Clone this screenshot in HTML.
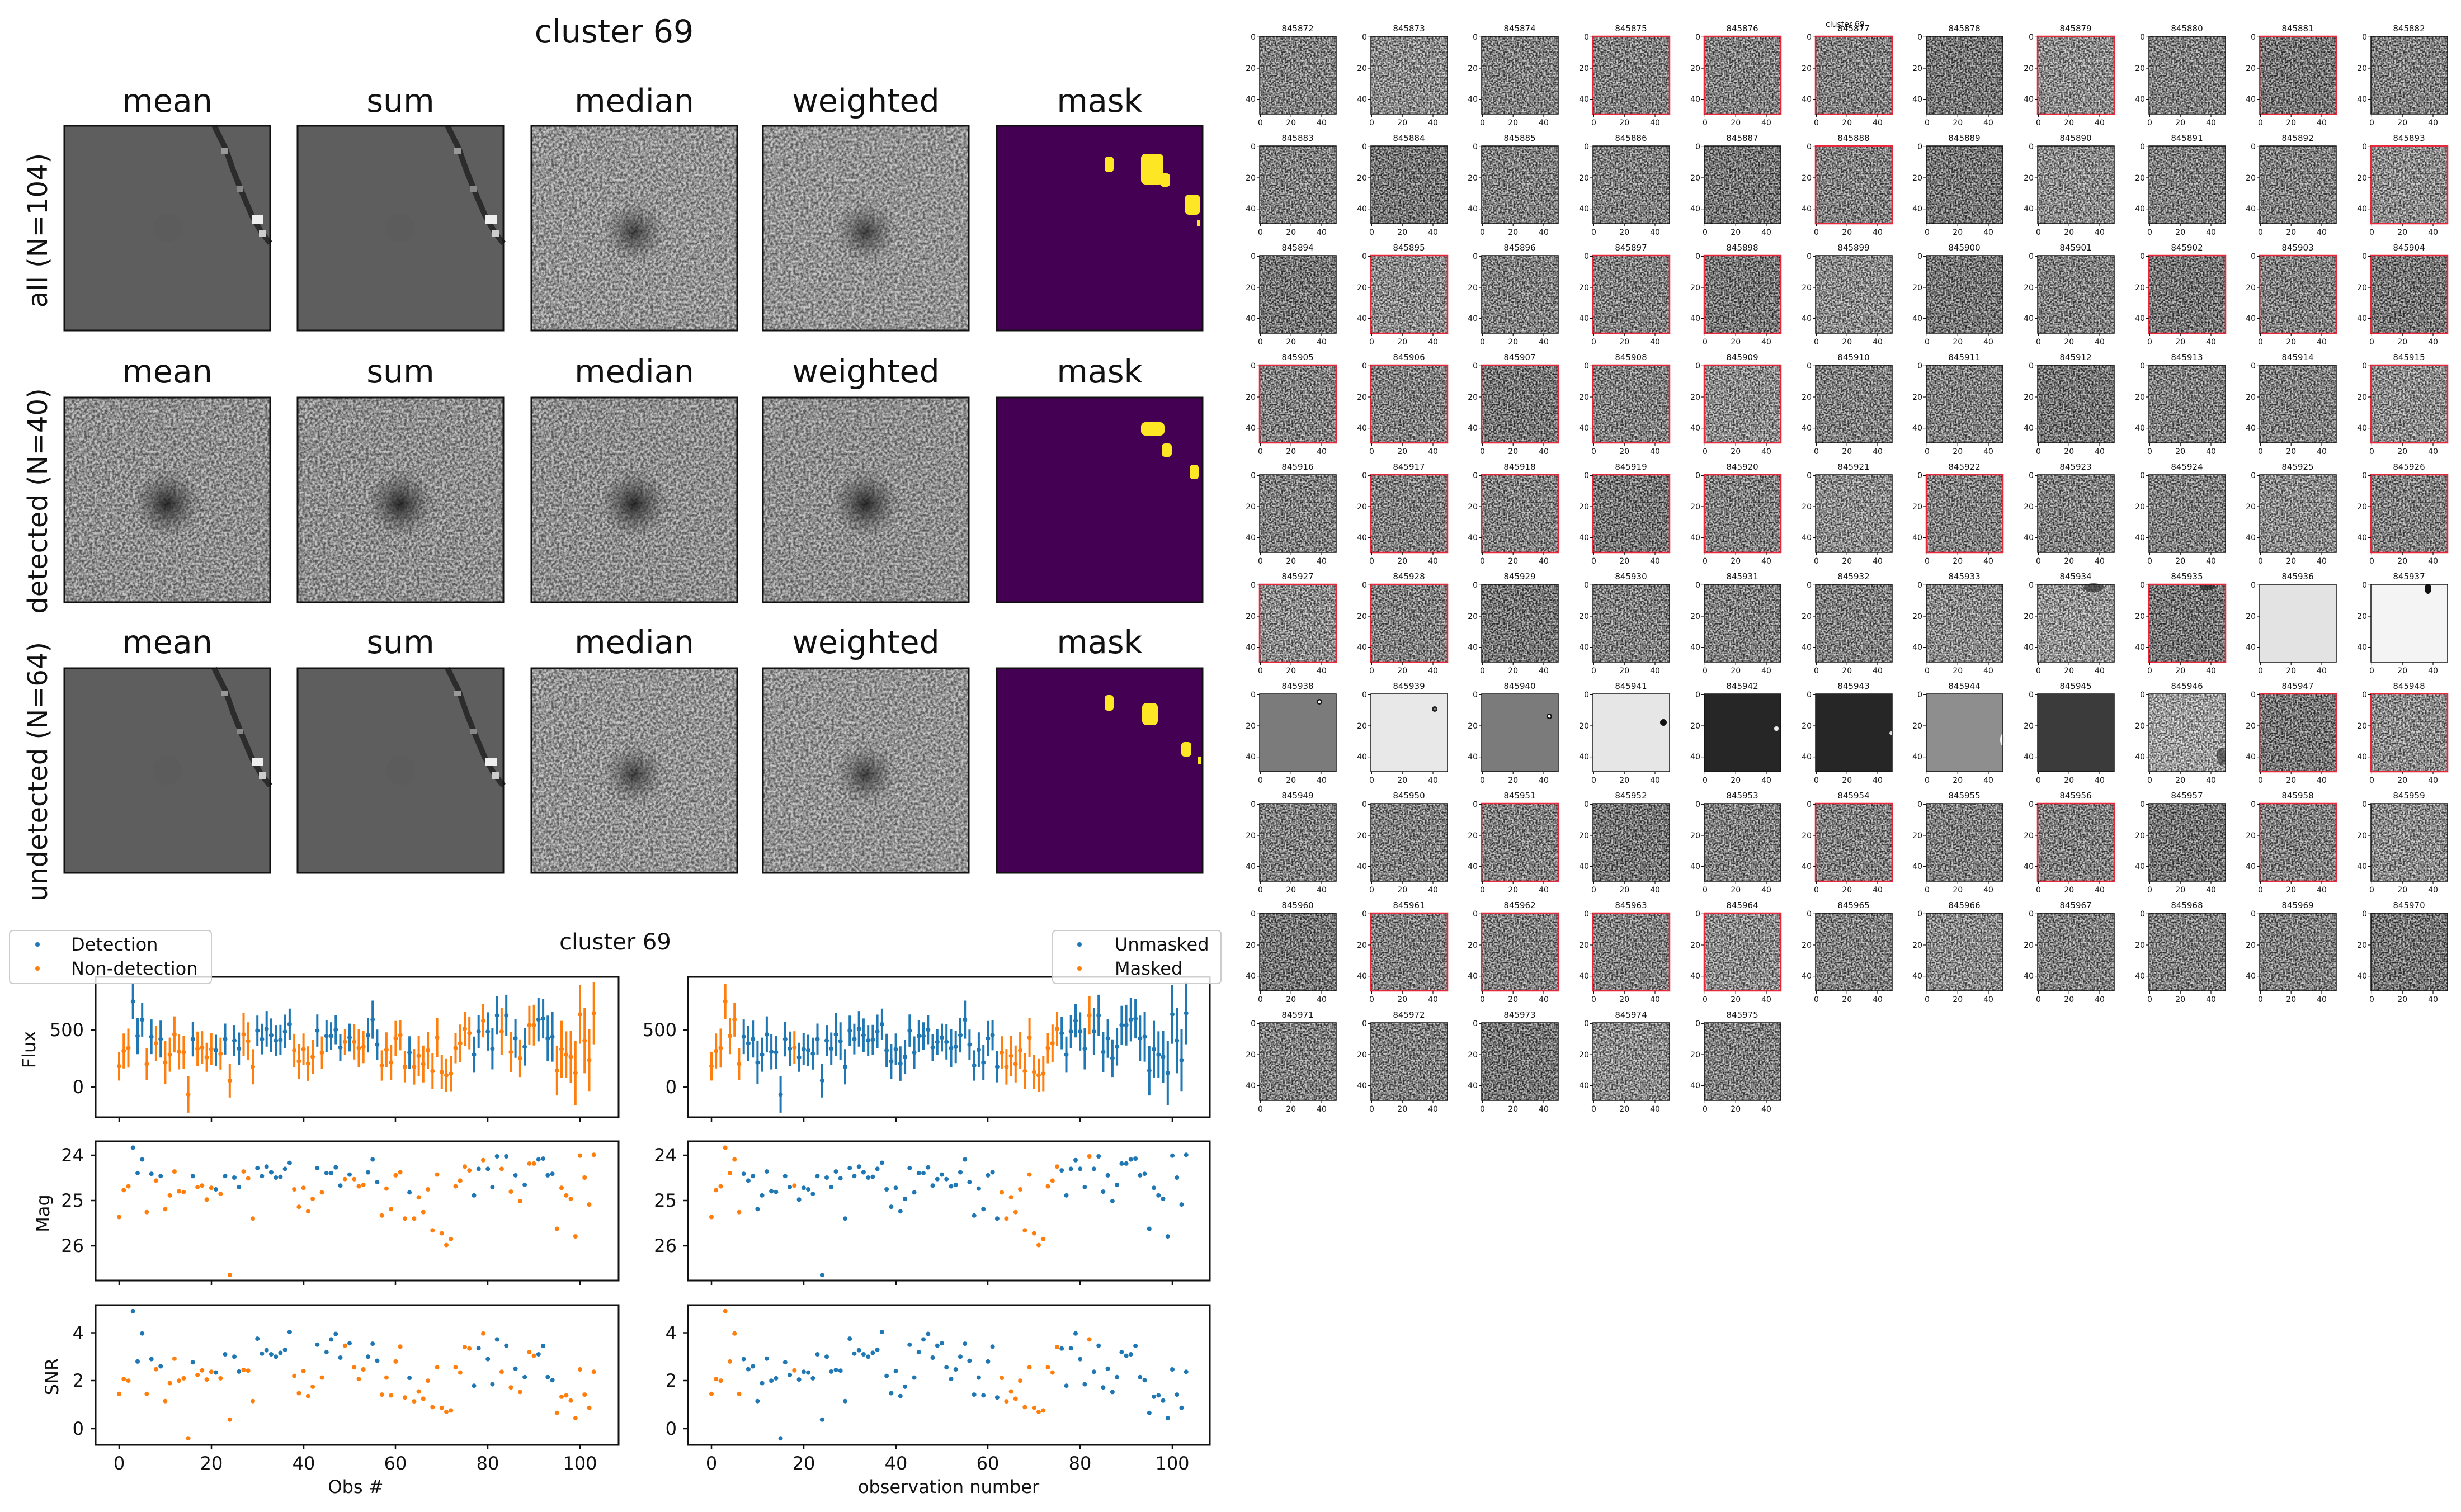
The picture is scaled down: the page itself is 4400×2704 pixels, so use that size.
<!DOCTYPE html>
<html><head><meta charset="utf-8">
<style>
html,body{margin:0;padding:0;background:#fff;}
svg{display:block;font-family:"DejaVu Sans","Liberation Sans",sans-serif;}
.a{fill:#7e7e7e;filter:url(#nz)}
.d{fill:#646464;filter:url(#nz)}
.l{fill:#979797;filter:url(#nz)}
.L{fill:#c6c6c6;filter:url(#nz)}
.B{fill:#adadad;filter:url(#nz)}
.f{fill:none;stroke:#111;stroke-width:1.5}
.r{fill:none;stroke:#e8283a;stroke-width:2.5}
.h{font-size:15px;text-anchor:middle;fill:#111}
.k{font-size:14px;fill:#111}
.T{font-size:57px;text-anchor:middle;fill:#111}
.R{font-size:48px;text-anchor:middle;fill:#111}
.t2{font-size:32px;fill:#111}
</style></head><body>
<svg id="S" width="4400" height="2704" viewBox="0 0 4400 2704" xmlns="http://www.w3.org/2000/svg">
<defs>
<filter id="nz" x="0" y="0" width="1" height="1" color-interpolation-filters="sRGB">
<feTurbulence type="fractalNoise" baseFrequency="0.33" numOctaves="1" seed="4" result="t"/>
<feColorMatrix in="t" type="matrix" values="3 0 0 0 -1  3 0 0 0 -1  3 0 0 0 -1  0 0 0 0 0.6" result="g"/>
<feComposite in="g" in2="SourceGraphic" operator="over"/>
</filter>
<filter id="nb" x="0" y="0" width="1" height="1" color-interpolation-filters="sRGB">
<feTurbulence type="fractalNoise" baseFrequency="0.22" numOctaves="2" seed="9" result="t"/>
<feColorMatrix in="t" type="matrix" values="2.2 0 0 0 -0.6  2.2 0 0 0 -0.6  2.2 0 0 0 -0.6  0 0 0 0 0.45" result="g"/>
<feComposite in="g" in2="SourceGraphic" operator="over"/>
</filter>
<radialGradient id="blob"><stop offset="0" stop-color="#111" stop-opacity="0.85"/><stop offset="0.5" stop-color="#333" stop-opacity="0.45"/><stop offset="1" stop-color="#444" stop-opacity="0"/></radialGradient>
<radialGradient id="blob2"><stop offset="0" stop-color="#111" stop-opacity="0.7"/><stop offset="0.5" stop-color="#333" stop-opacity="0.35"/><stop offset="1" stop-color="#444" stop-opacity="0"/></radialGradient>
<g id="tk">
<path d="M-5 1.4h5M-5 57h5M-5 112.6h5M1.4 139v5M56.2 139v5M111 139v5" stroke="#111" stroke-width="1.2"/>
<text class="k" text-anchor="end"><tspan x="-7" y="6">0</tspan><tspan x="-7" y="62">20</tspan><tspan x="-7" y="117">40</tspan></text>
<text class="k" text-anchor="middle"><tspan x="1.4" y="159">0</tspan><tspan x="56.2" y="159">20</tspan><tspan x="111" y="159">40</tspan></text>
</g>
<g id="smooth">
<rect width="368" height="366" fill="#5e5e5e"/>
<circle cx="184" cy="183" r="26" fill="#595959" opacity="0.5"/>
<polyline points="268,0 288,40 302,80 318,120 335,160 352,190 368,210" fill="none" stroke="#2c2c2c" stroke-width="10"/>
<rect x="280" y="40" width="12" height="10" fill="#999"/>
<rect x="308" y="108" width="12" height="10" fill="#888"/>
<rect x="336" y="160" width="20" height="15" fill="#eee"/>
<rect x="348" y="186" width="12" height="12" fill="#ccc"/>
</g>
<g id="nsb"><rect width="368" height="366" fill="#a2a2a2" style="filter:url(#nb)"/><circle cx="184" cy="190" r="55" fill="url(#blob2)"/></g>
<g id="nsd"><rect width="368" height="366" fill="#9a9a9a" style="filter:url(#nb)"/><circle cx="184" cy="190" r="60" fill="url(#blob)"/></g>
</defs>

<!-- top-left panel -->
<text class="T" x="1098" y="76">cluster 69</text>
<g class="T">
<text x="299" y="200">mean</text><text x="716" y="200">sum</text><text x="1134" y="200">median</text><text x="1548" y="200">weighted</text><text x="1966" y="200">mask</text>
<text x="299" y="684">mean</text><text x="716" y="684">sum</text><text x="1134" y="684">median</text><text x="1548" y="684">weighted</text><text x="1966" y="684">mask</text>
<text x="299" y="1168">mean</text><text x="716" y="1168">sum</text><text x="1134" y="1168">median</text><text x="1548" y="1168">weighted</text><text x="1966" y="1168">mask</text>
</g>
<text class="R" transform="translate(84,412) rotate(-90)">all (N=104)</text>
<text class="R" transform="translate(84,896) rotate(-90)">detected (N=40)</text>
<text class="R" transform="translate(84,1380) rotate(-90)">undetected (N=64)</text>

<g transform="translate(115,225)"><use href="#smooth"/></g>
<g transform="translate(532,225)"><use href="#smooth"/></g>
<g transform="translate(950,225)"><use href="#nsb"/></g>
<g transform="translate(1364,225)"><use href="#nsb"/></g>
<g transform="translate(1782,225)"><rect width="368" height="366" fill="#440154"/>
<rect x="193" y="55" width="16" height="28" rx="6" fill="#fde725"/>
<rect x="258" y="50" width="40" height="55" rx="8" fill="#fde725"/>
<rect x="292" y="85" width="18" height="24" rx="6" fill="#fde725"/>
<rect x="336" y="123" width="28" height="36" rx="8" fill="#fde725"/>
<rect x="358" y="168" width="6" height="12" fill="#fde725"/></g>

<g transform="translate(115,711)"><use href="#nsd"/></g>
<g transform="translate(532,711)"><use href="#nsd"/></g>
<g transform="translate(950,711)"><use href="#nsd"/></g>
<g transform="translate(1364,711)"><use href="#nsd"/></g>
<g transform="translate(1782,711)"><rect width="368" height="366" fill="#440154"/>
<rect x="258" y="44" width="42" height="24" rx="8" fill="#fde725"/>
<rect x="295" y="82" width="18" height="24" rx="6" fill="#fde725"/>
<rect x="345" y="120" width="16" height="26" rx="6" fill="#fde725"/></g>

<g transform="translate(115,1195)"><use href="#smooth"/></g>
<g transform="translate(532,1195)"><use href="#smooth"/></g>
<g transform="translate(950,1195)"><use href="#nsb"/></g>
<g transform="translate(1364,1195)"><use href="#nsb"/></g>
<g transform="translate(1782,1195)"><rect width="368" height="366" fill="#440154"/>
<rect x="193" y="48" width="16" height="28" rx="6" fill="#fde725"/>
<rect x="260" y="62" width="28" height="40" rx="8" fill="#fde725"/>
<rect x="330" y="132" width="18" height="26" rx="6" fill="#fde725"/>
<rect x="360" y="158" width="6" height="14" fill="#fde725"/></g>

<g fill="none" stroke="#111" stroke-width="3">
<rect x="115" y="225" width="368" height="366"/><rect x="532" y="225" width="368" height="366"/><rect x="950" y="225" width="368" height="366"/><rect x="1364" y="225" width="368" height="366"/><rect x="1782" y="225" width="368" height="366"/>
<rect x="115" y="711" width="368" height="366"/><rect x="532" y="711" width="368" height="366"/><rect x="950" y="711" width="368" height="366"/><rect x="1364" y="711" width="368" height="366"/><rect x="1782" y="711" width="368" height="366"/>
<rect x="115" y="1195" width="368" height="366"/><rect x="532" y="1195" width="368" height="366"/><rect x="950" y="1195" width="368" height="366"/><rect x="1364" y="1195" width="368" height="366"/><rect x="1782" y="1195" width="368" height="366"/>
</g>

<!-- thumbnails -->
<text class="h" x="3299" y="48" style="font-size:14px">cluster 69</text>
<g id="thumbs">
<g transform="translate(2252,65)"><rect class="a" width="137" height="139"/><rect class="f" width="137" height="139"/><use href="#tk"/><text class="h" x="68" y="-9">845872</text></g>
<g transform="translate(2451,65)"><rect class="l" width="137" height="139"/><rect class="f" width="137" height="139"/><use href="#tk"/><text class="h" x="68" y="-9">845873</text></g>
<g transform="translate(2649,65)"><rect class="a" width="137" height="139"/><rect class="f" width="137" height="139"/><use href="#tk"/><text class="h" x="68" y="-9">845874</text></g>
<g transform="translate(2848,65)"><rect class="a" width="137" height="139"/><rect class="r" width="137" height="139"/><use href="#tk"/><text class="h" x="68" y="-9">845875</text></g>
<g transform="translate(3047,65)"><rect class="a" width="137" height="139"/><rect class="r" width="137" height="139"/><use href="#tk"/><text class="h" x="68" y="-9">845876</text></g>
<g transform="translate(3246,65)"><rect class="a" width="137" height="139"/><rect class="r" width="137" height="139"/><use href="#tk"/><text class="h" x="68" y="-9">845877</text></g>
<g transform="translate(3444,65)"><rect class="d" width="137" height="139"/><rect class="f" width="137" height="139"/><use href="#tk"/><text class="h" x="68" y="-9">845878</text></g>
<g transform="translate(3643,65)"><rect class="l" width="137" height="139"/><rect class="r" width="137" height="139"/><use href="#tk"/><text class="h" x="68" y="-9">845879</text></g>
<g transform="translate(3842,65)"><rect class="a" width="137" height="139"/><rect class="f" width="137" height="139"/><use href="#tk"/><text class="h" x="68" y="-9">845880</text></g>
<g transform="translate(4040,65)"><rect class="d" width="137" height="139"/><rect class="r" width="137" height="139"/><use href="#tk"/><text class="h" x="68" y="-9">845881</text></g>
<g transform="translate(4239,65)"><rect class="a" width="137" height="139"/><rect class="f" width="137" height="139"/><use href="#tk"/><text class="h" x="68" y="-9">845882</text></g>

<g transform="translate(2252,261)"><rect class="a" width="137" height="139"/><rect class="f" width="137" height="139"/><use href="#tk"/><text class="h" x="68" y="-9">845883</text></g>
<g transform="translate(2451,261)"><rect class="d" width="137" height="139"/><rect class="f" width="137" height="139"/><use href="#tk"/><text class="h" x="68" y="-9">845884</text></g>
<g transform="translate(2649,261)"><rect class="a" width="137" height="139"/><rect class="f" width="137" height="139"/><use href="#tk"/><text class="h" x="68" y="-9">845885</text></g>
<g transform="translate(2848,261)"><rect class="a" width="137" height="139"/><rect class="f" width="137" height="139"/><use href="#tk"/><text class="h" x="68" y="-9">845886</text></g>
<g transform="translate(3047,261)"><rect class="d" width="137" height="139"/><rect class="f" width="137" height="139"/><use href="#tk"/><text class="h" x="68" y="-9">845887</text></g>
<g transform="translate(3246,261)"><rect class="a" width="137" height="139"/><rect class="r" width="137" height="139"/><use href="#tk"/><text class="h" x="68" y="-9">845888</text></g>
<g transform="translate(3444,261)"><rect class="d" width="137" height="139"/><rect class="f" width="137" height="139"/><use href="#tk"/><text class="h" x="68" y="-9">845889</text></g>
<g transform="translate(3643,261)"><rect class="l" width="137" height="139"/><rect class="f" width="137" height="139"/><use href="#tk"/><text class="h" x="68" y="-9">845890</text></g>
<g transform="translate(3842,261)"><rect class="a" width="137" height="139"/><rect class="f" width="137" height="139"/><use href="#tk"/><text class="h" x="68" y="-9">845891</text></g>
<g transform="translate(4040,261)"><rect class="a" width="137" height="139"/><rect class="f" width="137" height="139"/><use href="#tk"/><text class="h" x="68" y="-9">845892</text></g>
<g transform="translate(4239,261)"><rect class="l" width="137" height="139"/><rect class="r" width="137" height="139"/><use href="#tk"/><text class="h" x="68" y="-9">845893</text></g>

<g transform="translate(2252,457)"><rect class="d" width="137" height="139"/><rect class="f" width="137" height="139"/><use href="#tk"/><text class="h" x="68" y="-9">845894</text></g>
<g transform="translate(2451,457)"><rect class="l" width="137" height="139"/><rect class="r" width="137" height="139"/><use href="#tk"/><text class="h" x="68" y="-9">845895</text></g>
<g transform="translate(2649,457)"><rect class="a" width="137" height="139"/><rect class="f" width="137" height="139"/><use href="#tk"/><text class="h" x="68" y="-9">845896</text></g>
<g transform="translate(2848,457)"><rect class="a" width="137" height="139"/><rect class="r" width="137" height="139"/><use href="#tk"/><text class="h" x="68" y="-9">845897</text></g>
<g transform="translate(3047,457)"><rect class="d" width="137" height="139"/><rect class="r" width="137" height="139"/><use href="#tk"/><text class="h" x="68" y="-9">845898</text></g>
<g transform="translate(3246,457)"><rect class="l" width="137" height="139"/><rect class="f" width="137" height="139"/><use href="#tk"/><text class="h" x="68" y="-9">845899</text></g>
<g transform="translate(3444,457)"><rect class="d" width="137" height="139"/><rect class="f" width="137" height="139"/><use href="#tk"/><text class="h" x="68" y="-9">845900</text></g>
<g transform="translate(3643,457)"><rect class="a" width="137" height="139"/><rect class="f" width="137" height="139"/><use href="#tk"/><text class="h" x="68" y="-9">845901</text></g>
<g transform="translate(3842,457)"><rect class="d" width="137" height="139"/><rect class="r" width="137" height="139"/><use href="#tk"/><text class="h" x="68" y="-9">845902</text></g>
<g transform="translate(4040,457)"><rect class="a" width="137" height="139"/><rect class="r" width="137" height="139"/><use href="#tk"/><text class="h" x="68" y="-9">845903</text></g>
<g transform="translate(4239,457)"><rect class="d" width="137" height="139"/><rect class="r" width="137" height="139"/><use href="#tk"/><text class="h" x="68" y="-9">845904</text></g>

<g transform="translate(2252,653)"><rect class="a" width="137" height="139"/><rect class="r" width="137" height="139"/><use href="#tk"/><text class="h" x="68" y="-9">845905</text></g>
<g transform="translate(2451,653)"><rect class="a" width="137" height="139"/><rect class="r" width="137" height="139"/><use href="#tk"/><text class="h" x="68" y="-9">845906</text></g>
<g transform="translate(2649,653)"><rect class="d" width="137" height="139"/><rect class="r" width="137" height="139"/><use href="#tk"/><text class="h" x="68" y="-9">845907</text></g>
<g transform="translate(2848,653)"><rect class="a" width="137" height="139"/><rect class="r" width="137" height="139"/><use href="#tk"/><text class="h" x="68" y="-9">845908</text></g>
<g transform="translate(3047,653)"><rect class="l" width="137" height="139"/><rect class="r" width="137" height="139"/><use href="#tk"/><text class="h" x="68" y="-9">845909</text></g>
<g transform="translate(3246,653)"><rect class="a" width="137" height="139"/><rect class="f" width="137" height="139"/><use href="#tk"/><text class="h" x="68" y="-9">845910</text></g>
<g transform="translate(3444,653)"><rect class="a" width="137" height="139"/><rect class="f" width="137" height="139"/><use href="#tk"/><text class="h" x="68" y="-9">845911</text></g>
<g transform="translate(3643,653)"><rect class="d" width="137" height="139"/><rect class="f" width="137" height="139"/><use href="#tk"/><text class="h" x="68" y="-9">845912</text></g>
<g transform="translate(3842,653)"><rect class="a" width="137" height="139"/><rect class="f" width="137" height="139"/><use href="#tk"/><text class="h" x="68" y="-9">845913</text></g>
<g transform="translate(4040,653)"><rect class="a" width="137" height="139"/><rect class="f" width="137" height="139"/><use href="#tk"/><text class="h" x="68" y="-9">845914</text></g>
<g transform="translate(4239,653)"><rect class="l" width="137" height="139"/><rect class="r" width="137" height="139"/><use href="#tk"/><text class="h" x="68" y="-9">845915</text></g>

<g transform="translate(2252,849)"><rect class="a" width="137" height="139"/><rect class="f" width="137" height="139"/><use href="#tk"/><text class="h" x="68" y="-9">845916</text></g>
<g transform="translate(2451,849)"><rect class="a" width="137" height="139"/><rect class="r" width="137" height="139"/><use href="#tk"/><text class="h" x="68" y="-9">845917</text></g>
<g transform="translate(2649,849)"><rect class="a" width="137" height="139"/><rect class="r" width="137" height="139"/><use href="#tk"/><text class="h" x="68" y="-9">845918</text></g>
<g transform="translate(2848,849)"><rect class="d" width="137" height="139"/><rect class="r" width="137" height="139"/><use href="#tk"/><text class="h" x="68" y="-9">845919</text></g>
<g transform="translate(3047,849)"><rect class="a" width="137" height="139"/><rect class="r" width="137" height="139"/><use href="#tk"/><text class="h" x="68" y="-9">845920</text></g>
<g transform="translate(3246,849)"><rect class="l" width="137" height="139"/><rect class="f" width="137" height="139"/><use href="#tk"/><text class="h" x="68" y="-9">845921</text></g>
<g transform="translate(3444,849)"><rect class="a" width="137" height="139"/><rect class="r" width="137" height="139"/><use href="#tk"/><text class="h" x="68" y="-9">845922</text></g>
<g transform="translate(3643,849)"><rect class="a" width="137" height="139"/><rect class="f" width="137" height="139"/><use href="#tk"/><text class="h" x="68" y="-9">845923</text></g>
<g transform="translate(3842,849)"><rect class="a" width="137" height="139"/><rect class="f" width="137" height="139"/><use href="#tk"/><text class="h" x="68" y="-9">845924</text></g>
<g transform="translate(4040,849)"><rect class="l" width="137" height="139"/><rect class="f" width="137" height="139"/><use href="#tk"/><text class="h" x="68" y="-9">845925</text></g>
<g transform="translate(4239,849)"><rect class="a" width="137" height="139"/><rect class="r" width="137" height="139"/><use href="#tk"/><text class="h" x="68" y="-9">845926</text></g>

<g transform="translate(2252,1045)"><rect class="l" width="137" height="139"/><rect class="r" width="137" height="139"/><use href="#tk"/><text class="h" x="68" y="-9">845927</text></g>
<g transform="translate(2451,1045)"><rect class="a" width="137" height="139"/><rect class="r" width="137" height="139"/><use href="#tk"/><text class="h" x="68" y="-9">845928</text></g>
<g transform="translate(2649,1045)"><rect class="d" width="137" height="139"/><rect class="f" width="137" height="139"/><use href="#tk"/><text class="h" x="68" y="-9">845929</text></g>
<g transform="translate(2848,1045)"><rect class="a" width="137" height="139"/><rect class="f" width="137" height="139"/><use href="#tk"/><text class="h" x="68" y="-9">845930</text></g>
<g transform="translate(3047,1045)"><rect class="a" width="137" height="139"/><rect class="f" width="137" height="139"/><use href="#tk"/><text class="h" x="68" y="-9">845931</text></g>
<g transform="translate(3246,1045)"><rect class="a" width="137" height="139"/><rect class="f" width="137" height="139"/><use href="#tk"/><text class="h" x="68" y="-9">845932</text></g>
<g transform="translate(3444,1045)"><rect class="l" width="137" height="139"/><rect class="f" width="137" height="139"/><use href="#tk"/><text class="h" x="68" y="-9">845933</text></g>
<g transform="translate(3643,1045)"><rect class="B" width="137" height="139"/><ellipse cx="100" cy="6" rx="18" ry="8" fill="#333" opacity="0.7"/><rect class="f" width="137" height="139"/><use href="#tk"/><text class="h" x="68" y="-9">845934</text></g>
<g transform="translate(3842,1045)"><rect class="d" width="137" height="139"/><ellipse cx="105" cy="5" rx="14" ry="6" fill="#222" opacity="0.7"/><rect class="r" width="137" height="139"/><use href="#tk"/><text class="h" x="68" y="-9">845935</text></g>
<g transform="translate(4040,1045)"><rect fill="#e3e3e3" width="137" height="139"/><rect class="f" width="137" height="139"/><use href="#tk"/><text class="h" x="68" y="-9">845936</text></g>
<g transform="translate(4239,1045)"><rect fill="#f4f4f4" width="137" height="139"/><ellipse cx="102" cy="8" rx="6" ry="9" fill="#111"/><rect class="f" width="137" height="139"/><use href="#tk"/><text class="h" x="68" y="-9">845937</text></g>

<g transform="translate(2252,1241)"><rect fill="#7b7b7b" width="137" height="139"/><circle cx="107" cy="14" r="5" fill="#111"/><circle cx="107" cy="14" r="2.5" fill="#fff"/><rect class="f" width="137" height="139"/><use href="#tk"/><text class="h" x="68" y="-9">845938</text></g>
<g transform="translate(2451,1241)"><rect fill="#e8e8e8" width="137" height="139"/><circle cx="114" cy="27" r="5" fill="#222"/><circle cx="114" cy="27" r="2" fill="#888"/><rect class="f" width="137" height="139"/><use href="#tk"/><text class="h" x="68" y="-9">845939</text></g>
<g transform="translate(2649,1241)"><rect fill="#7b7b7b" width="137" height="139"/><circle cx="121" cy="40" r="5" fill="#111"/><circle cx="121" cy="40" r="2.5" fill="#fff"/><rect class="f" width="137" height="139"/><use href="#tk"/><text class="h" x="68" y="-9">845940</text></g>
<g transform="translate(2848,1241)"><rect fill="#e6e6e6" width="137" height="139"/><circle cx="126" cy="51" r="6" fill="#111"/><rect class="f" width="137" height="139"/><use href="#tk"/><text class="h" x="68" y="-9">845941</text></g>
<g transform="translate(3047,1241)"><rect fill="#262626" width="137" height="139"/><circle cx="129" cy="62" r="4" fill="#eee"/><rect class="f" width="137" height="139"/><use href="#tk"/><text class="h" x="68" y="-9">845942</text></g>
<g transform="translate(3246,1241)"><rect fill="#262626" width="137" height="139"/><circle cx="135" cy="70" r="3" fill="#ddd"/><rect class="f" width="137" height="139"/><use href="#tk"/><text class="h" x="68" y="-9">845943</text></g>
<g transform="translate(3444,1241)"><rect fill="#8e8e8e" width="137" height="139"/><ellipse cx="136" cy="82" rx="4" ry="10" fill="#f4f4f4"/><rect class="f" width="137" height="139"/><use href="#tk"/><text class="h" x="68" y="-9">845944</text></g>
<g transform="translate(3643,1241)"><rect fill="#3b3b3b" width="137" height="139"/><rect class="f" width="137" height="139"/><use href="#tk"/><text class="h" x="68" y="-9">845945</text></g>
<g transform="translate(3842,1241)"><rect class="L" width="137" height="139"/><ellipse cx="130" cy="112" rx="8" ry="16" fill="#333" opacity="0.6"/><rect class="f" width="137" height="139"/><use href="#tk"/><text class="h" x="68" y="-9">845946</text></g>
<g transform="translate(4040,1241)"><rect class="d" width="137" height="139"/><rect class="r" width="137" height="139"/><use href="#tk"/><text class="h" x="68" y="-9">845947</text></g>
<g transform="translate(4239,1241)"><rect class="l" width="137" height="139"/><rect class="r" width="137" height="139"/><use href="#tk"/><text class="h" x="68" y="-9">845948</text></g>

<g transform="translate(2252,1437)"><rect class="a" width="137" height="139"/><rect class="f" width="137" height="139"/><use href="#tk"/><text class="h" x="68" y="-9">845949</text></g>
<g transform="translate(2451,1437)"><rect class="a" width="137" height="139"/><rect class="f" width="137" height="139"/><use href="#tk"/><text class="h" x="68" y="-9">845950</text></g>
<g transform="translate(2649,1437)"><rect class="a" width="137" height="139"/><rect class="r" width="137" height="139"/><use href="#tk"/><text class="h" x="68" y="-9">845951</text></g>
<g transform="translate(2848,1437)"><rect class="d" width="137" height="139"/><rect class="f" width="137" height="139"/><use href="#tk"/><text class="h" x="68" y="-9">845952</text></g>
<g transform="translate(3047,1437)"><rect class="a" width="137" height="139"/><rect class="f" width="137" height="139"/><use href="#tk"/><text class="h" x="68" y="-9">845953</text></g>
<g transform="translate(3246,1437)"><rect class="a" width="137" height="139"/><rect class="r" width="137" height="139"/><use href="#tk"/><text class="h" x="68" y="-9">845954</text></g>
<g transform="translate(3444,1437)"><rect class="a" width="137" height="139"/><rect class="f" width="137" height="139"/><use href="#tk"/><text class="h" x="68" y="-9">845955</text></g>
<g transform="translate(3643,1437)"><rect class="a" width="137" height="139"/><rect class="r" width="137" height="139"/><use href="#tk"/><text class="h" x="68" y="-9">845956</text></g>
<g transform="translate(3842,1437)"><rect class="d" width="137" height="139"/><rect class="f" width="137" height="139"/><use href="#tk"/><text class="h" x="68" y="-9">845957</text></g>
<g transform="translate(4040,1437)"><rect class="a" width="137" height="139"/><rect class="r" width="137" height="139"/><use href="#tk"/><text class="h" x="68" y="-9">845958</text></g>
<g transform="translate(4239,1437)"><rect class="l" width="137" height="139"/><rect class="f" width="137" height="139"/><use href="#tk"/><text class="h" x="68" y="-9">845959</text></g>

<g transform="translate(2252,1633)"><rect class="d" width="137" height="139"/><rect class="f" width="137" height="139"/><use href="#tk"/><text class="h" x="68" y="-9">845960</text></g>
<g transform="translate(2451,1633)"><rect class="a" width="137" height="139"/><rect class="r" width="137" height="139"/><use href="#tk"/><text class="h" x="68" y="-9">845961</text></g>
<g transform="translate(2649,1633)"><rect class="a" width="137" height="139"/><rect class="r" width="137" height="139"/><use href="#tk"/><text class="h" x="68" y="-9">845962</text></g>
<g transform="translate(2848,1633)"><rect class="a" width="137" height="139"/><rect class="r" width="137" height="139"/><use href="#tk"/><text class="h" x="68" y="-9">845963</text></g>
<g transform="translate(3047,1633)"><rect class="l" width="137" height="139"/><rect class="r" width="137" height="139"/><use href="#tk"/><text class="h" x="68" y="-9">845964</text></g>
<g transform="translate(3246,1633)"><rect class="a" width="137" height="139"/><rect class="f" width="137" height="139"/><use href="#tk"/><text class="h" x="68" y="-9">845965</text></g>
<g transform="translate(3444,1633)"><rect class="l" width="137" height="139"/><rect class="f" width="137" height="139"/><use href="#tk"/><text class="h" x="68" y="-9">845966</text></g>
<g transform="translate(3643,1633)"><rect class="a" width="137" height="139"/><rect class="f" width="137" height="139"/><use href="#tk"/><text class="h" x="68" y="-9">845967</text></g>
<g transform="translate(3842,1633)"><rect class="a" width="137" height="139"/><rect class="f" width="137" height="139"/><use href="#tk"/><text class="h" x="68" y="-9">845968</text></g>
<g transform="translate(4040,1633)"><rect class="a" width="137" height="139"/><rect class="f" width="137" height="139"/><use href="#tk"/><text class="h" x="68" y="-9">845969</text></g>
<g transform="translate(4239,1633)"><rect class="d" width="137" height="139"/><rect class="f" width="137" height="139"/><use href="#tk"/><text class="h" x="68" y="-9">845970</text></g>

<g transform="translate(2252,1829)"><rect class="a" width="137" height="139"/><rect class="f" width="137" height="139"/><use href="#tk"/><text class="h" x="68" y="-9">845971</text></g>
<g transform="translate(2451,1829)"><rect class="a" width="137" height="139"/><rect class="f" width="137" height="139"/><use href="#tk"/><text class="h" x="68" y="-9">845972</text></g>
<g transform="translate(2649,1829)"><rect class="d" width="137" height="139"/><rect class="f" width="137" height="139"/><use href="#tk"/><text class="h" x="68" y="-9">845973</text></g>
<g transform="translate(2848,1829)"><rect class="l" width="137" height="139"/><rect class="f" width="137" height="139"/><use href="#tk"/><text class="h" x="68" y="-9">845974</text></g>
<g transform="translate(3047,1829)"><rect class="a" width="137" height="139"/><rect class="f" width="137" height="139"/><use href="#tk"/><text class="h" x="68" y="-9">845975</text></g>
</g>

<!-- bottom plots -->
<text x="1100" y="1698" style="font-size:40px;text-anchor:middle;fill:#111">cluster 69</text>
<g id="data"></g>
<g fill="none" stroke="#111" stroke-width="3">
<rect x="171" y="1747" width="935" height="251"/><rect x="171" y="2041" width="935" height="249"/><rect x="171" y="2334" width="935" height="250"/>
<rect x="1230" y="1747" width="933" height="251"/><rect x="1230" y="2041" width="933" height="249"/><rect x="1230" y="2334" width="933" height="250"/>
</g>
<g stroke="#111" stroke-width="2.5">
<path d="M163 1842h8M163 1944h8M163 2066h8M163 2147h8M163 2228h8M163 2383.5h8M163 2469h8M163 2555h8"/>
<path d="M1222 1842h8M1222 1944h8M1222 2066h8M1222 2147h8M1222 2228h8M1222 2383.5h8M1222 2469h8M1222 2555h8"/>
<path d="M213 1998v8M378 1998v8M543 1998v8M707 1998v8M872 1998v8M1037 1998v8M213 2290v8M378 2290v8M543 2290v8M707 2290v8M872 2290v8M1037 2290v8M213 2584v8M378 2584v8M543 2584v8M707 2584v8M872 2584v8M1037 2584v8"/>
<path d="M1272 1998v8M1437 1998v8M1602 1998v8M1766 1998v8M1931 1998v8M2096 1998v8M1272 2290v8M1437 2290v8M1602 2290v8M1766 2290v8M1931 2290v8M2096 2290v8M1272 2584v8M1437 2584v8M1602 2584v8M1766 2584v8M1931 2584v8M2096 2584v8"/>
</g>
<g class="t2" text-anchor="end">
<text x="150" y="1853">500</text><text x="150" y="1955">0</text><text x="150" y="2077">24</text><text x="150" y="2158">25</text><text x="150" y="2239">26</text><text x="150" y="2395">4</text><text x="150" y="2480">2</text><text x="150" y="2566">0</text>
<text x="1210" y="1853">500</text><text x="1210" y="1955">0</text><text x="1210" y="2077">24</text><text x="1210" y="2158">25</text><text x="1210" y="2239">26</text><text x="1210" y="2395">4</text><text x="1210" y="2480">2</text><text x="1210" y="2566">0</text>
</g>
<g class="t2" text-anchor="middle">
<text x="213" y="2628">0</text><text x="378" y="2628">20</text><text x="543" y="2628">40</text><text x="707" y="2628">60</text><text x="872" y="2628">80</text><text x="1037" y="2628">100</text>
<text x="1272" y="2628">0</text><text x="1437" y="2628">20</text><text x="1602" y="2628">40</text><text x="1766" y="2628">60</text><text x="1931" y="2628">80</text><text x="2096" y="2628">100</text>
<text x="636" y="2670">Obs #</text><text x="1696" y="2670">observation number</text>
<text transform="translate(63,1877) rotate(-90)">Flux</text>
<text transform="translate(88,2170) rotate(-90)">Mag</text>
<text transform="translate(104,2462) rotate(-90)">SNR</text>
</g>
<rect x="17" y="1664" width="361" height="95" rx="6" fill="#fff" fill-opacity="0.8" stroke="#ccc" stroke-width="2"/>
<circle cx="67" cy="1689" r="4" fill="#1f77b4"/><circle cx="67" cy="1732" r="4" fill="#ff7f0e"/>
<text class="t2" x="127" y="1700">Detection</text><text class="t2" x="127" y="1743">Non-detection</text>
<rect x="1882" y="1664" width="301" height="95" rx="6" fill="#fff" fill-opacity="0.8" stroke="#ccc" stroke-width="2"/>
<circle cx="1930" cy="1689" r="4" fill="#1f77b4"/><circle cx="1930" cy="1732" r="4" fill="#ff7f0e"/>
<text class="t2" x="1993" y="1700">Unmasked</text><text class="t2" x="1993" y="1743">Masked</text>
</svg>
<script>
(function(){
var mz=[790,719,709,607,674,638,777,676,694,682,769,733,670,722,724,null,682,711,707,744,713,717,729,682,943,686,711,670,688,794,661,682,657,672,686,684,663,647,717,763,713,775,742,661,725,674,674,659,707,690,678,690,709,705,672,638,698,786,715,769,680,672,794,725,794,738,777,717,825,678,833,864,848,709,694,657,667,733,663,640,663,711,630,663,630,723,680,748,705,649,649,638,636,680,676,821,713,733,742,841,628,686,757,626];
var sn=[1.45,2.07,2.0,4.9,2.8,3.97,1.45,2.9,2.48,2.6,1.15,1.9,2.92,2.0,2.1,-0.4,2.77,2.24,2.43,2.05,2.37,2.34,2.1,3.1,0.38,3.0,2.38,2.45,2.42,1.15,3.75,3.13,3.27,3.1,3.0,3.16,3.29,4.03,2.2,1.48,2.4,1.36,1.75,3.5,2.13,3.19,3.72,3.95,2.96,3.46,3.56,2.56,2.07,2.47,3.0,3.54,2.83,1.42,2.13,1.39,2.8,3.42,1.3,2.12,1.14,1.55,1.25,2.0,0.9,2.56,0.87,0.7,0.76,2.56,2.34,3.4,3.34,1.79,3.35,3.97,2.9,1.85,3.72,2.37,3.46,1.72,2.5,1.53,2.15,3.19,3.04,3.1,3.45,2.15,2.02,0.66,1.33,1.39,1.17,0.44,2.47,1.42,0.87,2.37];
var det="0001110101000000100001010110001111111100000101111010001110000001000000000000011011101010100111100000000000000";
var msk={0:1,1:1,2:1,3:1,4:1,5:1,6:1,18:1,63:1,64:1,65:1,66:1,67:1,68:1,69:1,70:1,71:1,72:1,73:1,74:1,75:1,82:1};
var B="#1f77b4",O="#ff7f0e",h="";
for(var i=0;i<104;i++){
 var mag=mz[i]==null?null:24+(mz[i]-627)/119.5;
 var fl=mag==null?-65:Math.pow(10,(31.02-mag)/2.5);
 var s=sn[i]; var er=mag==null?160:fl/s;
 var cl=det[i]=="1"?B:O, cr=msk[i]?O:B;
 var xs=[213+8.24*i,1272+8.24*i], cs=[cl,cr];
 for(var k=0;k<2;k++){
  var x=xs[k].toFixed(1),c=cs[k];
  var y1=Math.max(1749,1944-0.204*(fl+er)),y2=Math.min(1996,1944-0.204*(fl-er));
  h+='<line x1="'+x+'" x2="'+x+'" y1="'+y1.toFixed(1)+'" y2="'+y2.toFixed(1)+'" stroke="'+c+'" stroke-width="4"/>';
  h+='<circle cx="'+x+'" cy="'+(1944-0.204*fl).toFixed(1)+'" r="4" fill="'+c+'"/>';
  if(mag!=null)h+='<circle cx="'+x+'" cy="'+(2066+81*(mag-24)).toFixed(1)+'" r="4" fill="'+c+'"/>';
  h+='<circle cx="'+x+'" cy="'+(2555-42.9*s).toFixed(1)+'" r="4" fill="'+c+'"/>';
 }
}
document.getElementById("data").innerHTML=h;
})();
</script>
</body></html>
